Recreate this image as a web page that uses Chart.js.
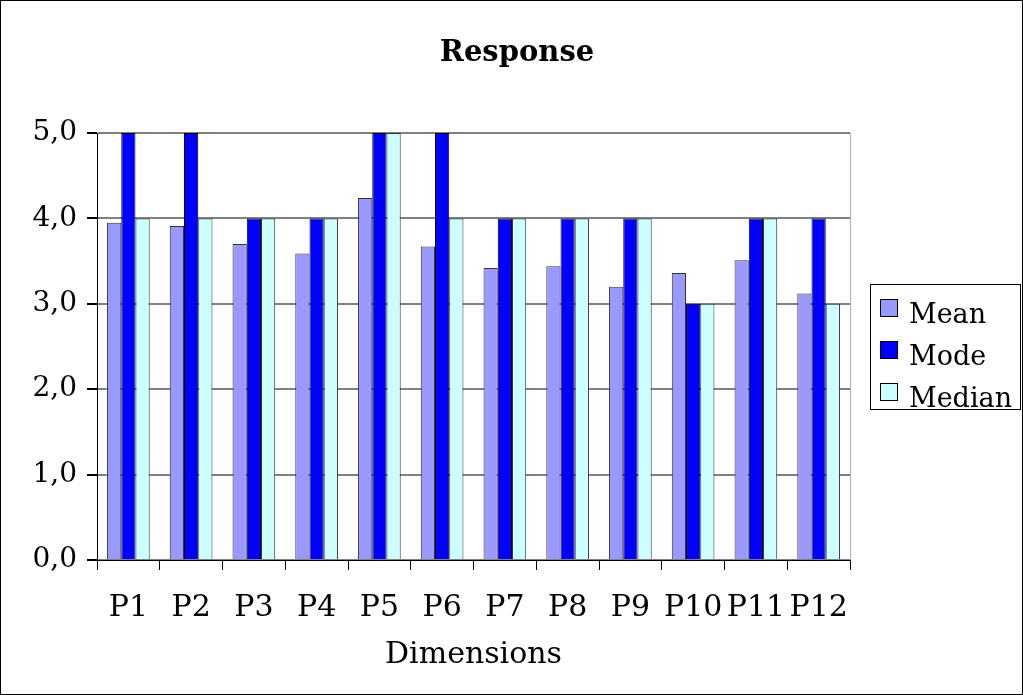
<!DOCTYPE html>
<html lang="en">
<head>
    <meta charset="UTF-8">
    <title>Response</title>
    <script src="https://cdn.jsdelivr.net/npm/chart.js"></script>
    <style>
        * { margin: 0; padding: 0; box-sizing: border-box; }
        body { background: #fff; }
    </style>
</head>
<body>
    <canvas id="responseChart" width="1023" height="695"></canvas>

    <script>
        // chart values
        const categories = ['P1', 'P2', 'P3', 'P4', 'P5', 'P6', 'P7', 'P8', 'P9', 'P10', 'P11', 'P12'];
        const meanValues = [3.95, 3.91, 3.70, 3.59, 4.24, 3.67, 3.42, 3.44, 3.20, 3.36, 3.51, 3.12];
        const modeValues = [5, 5, 4, 4, 5, 5, 4, 4, 4, 3, 4, 4];
        const medianValues = [4, 4, 4, 4, 5, 4, 4, 4, 4, 3, 4, 3];
        const yTicks = [0, 1, 2, 3, 4, 5];

        const serif = "'DejaVu Serif', 'Liberation Serif', serif";

        // outer frame, title, legend box and the light right edge of the plot
        const framePlugin = {
            id: 'framePlugin',
            afterDraw(chart) {
                const c = chart.ctx;
                const a = chart.chartArea;
                c.save();
                c.strokeStyle = '#b0b0b0';
                c.lineWidth = 1;
                c.beginPath();
                c.moveTo(Math.round(a.right) + 0.5, a.top);
                c.lineTo(Math.round(a.right) + 0.5, a.bottom);
                c.stroke();

                c.strokeStyle = '#000';
                c.strokeRect(0.5, 0.5, chart.width - 1, chart.height - 1);

                c.fillStyle = '#000';
                c.textAlign = 'center';
                c.textBaseline = 'middle';
                c.font = 'bold 29px ' + serif;
                c.fillText('Response', 517, 53);

                // legend
                c.strokeRect(870.5, 284.5, 150, 125);
                c.font = '27px ' + serif;
                c.textAlign = 'left';
                c.textBaseline = 'alphabetic';
                chart.data.datasets.forEach((ds, i) => {
                    const y = 299 + i * 42;
                    c.fillStyle = ds.backgroundColor;
                    c.fillRect(880, y, 17, 17);
                    c.strokeStyle = '#000';
                    c.strokeRect(880.5, y + 0.5, 17, 17);
                    c.fillStyle = '#000';
                    c.fillText(ds.label, 909, y + 24);
                });
                c.restore();
            }
        };

        const ctx = document.getElementById('responseChart').getContext('2d');
        new Chart(ctx, {
            type: 'bar',
            data: {
                labels: categories,
                datasets: [{
                    label: 'Mean',
                    data: meanValues,
                    backgroundColor: '#9999ff',
                    borderColor: '#333',
                    borderWidth: 1
                }, {
                    label: 'Mode',
                    data: modeValues,
                    backgroundColor: '#0000ff',
                    borderColor: '#000',
                    borderWidth: 1
                }, {
                    label: 'Median',
                    data: medianValues,
                    backgroundColor: '#ccffff',
                    borderColor: '#333',
                    borderWidth: 1
                }]
            },
            options: {
                responsive: false,
                animation: false,
                layout: { padding: { left: 0, right: 173, top: 133, bottom: 0 } },
                datasets: {
                    bar: { barPercentage: 1, categoryPercentage: 0.68 }
                },
                scales: {
                    x: {
                        afterFit(axis) {
                            axis.height = 135;
                        },
                        grid: {
                            drawOnChartArea: false,
                            color: '#000',
                            tickLength: 10
                        },
                        border: { color: '#000' },
                        ticks: {
                            color: '#000',
                            font: { family: serif, size: 30 },
                            maxRotation: 0,
                            autoSkip: false,
                            padding: 20
                        },
                        title: {
                            display: true,
                            text: 'Dimensions',
                            color: '#000',
                            font: { family: serif, size: 30 },
                            padding: { top: 0, bottom: 22 }
                        }
                    },
                    y: {
                        min: 0,
                        max: 5,
                        afterBuildTicks(axis) {
                            axis.ticks = yTicks.map(v => ({ value: v }));
                        },
                        afterFit(axis) {
                            axis.width = 97;
                        },
                        grid: {
                            color: '#808080',
                            lineWidth: 2,
                            tickColor: '#000',
                            tickLength: 10
                        },
                        border: { color: '#000' },
                        ticks: {
                            color: '#000',
                            font: { family: serif, size: 28 },
                            padding: 10,
                            callback: v => v.toFixed(1).replace('.', ',')
                        }
                    }
                },
                plugins: {
                    legend: { display: false },
                    tooltip: { enabled: false }
                }
            },
            plugins: [framePlugin]
        });
    </script>
</body>
</html>
